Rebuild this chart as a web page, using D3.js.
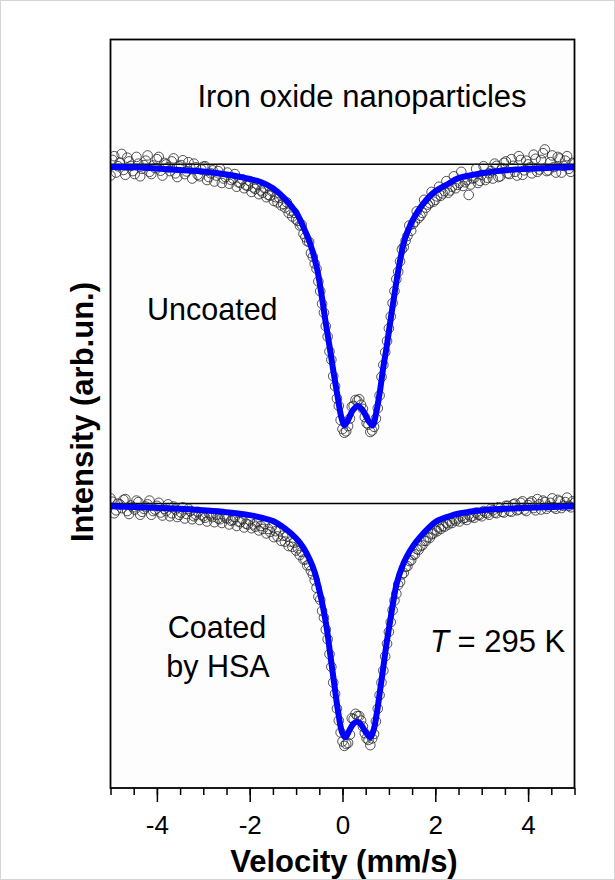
<!DOCTYPE html>
<html>
<head>
<meta charset="utf-8">
<script src="https://cdn.jsdelivr.net/npm/d3@7"></script>
<style>
  body { margin: 0; background: #fff; }
  svg text { font-family: "Liberation Sans", Arial, sans-serif; fill: #000; }
</style>
</head>
<body>
<div id="chart"></div>
<script>
// Velocity channels (mm/s) of the measured spectra
const channelV = [
  -5.00, -4.96, -4.92, -4.88, -4.84, -4.80, -4.76, -4.72, -4.68, -4.64, -4.60, -4.56, -4.52, -4.48, -4.44, -4.40, -4.36, -4.32, -4.28, -4.24, -4.20, -4.16, -4.12, -4.08, -4.04,
  -4.00, -3.96, -3.92, -3.88, -3.84, -3.80, -3.76, -3.72, -3.68, -3.64, -3.60, -3.56, -3.52, -3.48, -3.44, -3.40, -3.36, -3.32, -3.28, -3.24, -3.20, -3.16, -3.12, -3.08, -3.04,
  -3.00, -2.96, -2.92, -2.88, -2.84, -2.80, -2.76, -2.72, -2.68, -2.64, -2.60, -2.56, -2.52, -2.48, -2.44, -2.40, -2.36, -2.32, -2.28, -2.24, -2.20, -2.16, -2.12, -2.08, -2.04,
  -2.00, -1.96, -1.92, -1.88, -1.84, -1.80, -1.76, -1.72, -1.68, -1.64, -1.60, -1.56, -1.52, -1.48, -1.44, -1.40, -1.36, -1.32, -1.28, -1.24, -1.20, -1.16, -1.12, -1.08, -1.04,
  -1.00, -0.96, -0.92, -0.88, -0.84, -0.80, -0.76, -0.72, -0.68, -0.64, -0.60, -0.56, -0.52, -0.48, -0.44, -0.40, -0.36, -0.32, -0.28, -0.24, -0.20, -0.16, -0.12, -0.08, -0.04,
  0.00, 0.04, 0.08, 0.12, 0.16, 0.20, 0.24, 0.28, 0.32, 0.36, 0.40, 0.44, 0.48, 0.52, 0.56, 0.60, 0.64, 0.68, 0.72, 0.76, 0.80, 0.84, 0.88, 0.92, 0.96,
  1.00, 1.04, 1.08, 1.12, 1.16, 1.20, 1.24, 1.28, 1.32, 1.36, 1.40, 1.44, 1.48, 1.52, 1.56, 1.60, 1.64, 1.68, 1.72, 1.76, 1.80, 1.84, 1.88, 1.92, 1.96,
  2.00, 2.04, 2.08, 2.12, 2.16, 2.20, 2.24, 2.28, 2.32, 2.36, 2.40, 2.44, 2.48, 2.52, 2.56, 2.60, 2.64, 2.68, 2.72, 2.76, 2.80, 2.84, 2.88, 2.92, 2.96,
  3.00, 3.04, 3.08, 3.12, 3.16, 3.20, 3.24, 3.28, 3.32, 3.36, 3.40, 3.44, 3.48, 3.52, 3.56, 3.60, 3.64, 3.68, 3.72, 3.76, 3.80, 3.84, 3.88, 3.92, 3.96,
  4.00, 4.04, 4.08, 4.12, 4.16, 4.20, 4.24, 4.28, 4.32, 4.36, 4.40, 4.44, 4.48, 4.52, 4.56, 4.60, 4.64, 4.68, 4.72, 4.76, 4.80, 4.84, 4.88, 4.92, 4.96, 5.00
];

// Relative transmission (%) - uncoated nanoparticles
const uncoatedMeas = [
  99.70, 100.12, 100.22, 99.78, 99.95, 100.05, 100.28, 99.85, 99.72, 100.18, 100.08, 99.96, 99.82, 99.74, 100.20, 100.02, 99.68, 99.88, 99.98, 100.10, 100.24, 99.80, 99.74, 99.97, 99.90,
  100.14, 100.20, 99.83, 99.70, 100.04, 100.00, 99.92, 99.82, 100.08, 100.16, 99.76, 99.66, 99.95, 99.98, 100.11, 99.74, 99.81, 100.06, 99.90, 99.62, 100.02, 99.92, 99.72, 99.68, 99.86,
  99.94, 99.95, 99.58, 99.66, 99.76, 99.84, 99.54, 99.70, 99.82, 99.88, 99.50, 99.62, 99.66, 99.78, 99.48, 99.58, 99.62, 99.74, 99.40, 99.52, 99.50, 99.60, 99.36, 99.44, 99.42,
  99.55, 99.26, 99.38, 99.34, 99.47, 99.20, 99.30, 99.24, 99.36, 99.12, 99.18, 99.16, 99.28, 99.02, 99.12, 98.98, 99.10, 98.90, 98.94, 98.84, 98.98, 98.70, 98.76, 98.60, 98.70,
  98.52, 98.48, 98.36, 98.38, 98.14, 98.05, 97.94, 97.92, 97.62, 97.52, 97.34, 97.20, 96.86, 96.60, 96.26, 96.02, 95.66, 95.38, 94.98, 94.76, 94.32, 94.05, 93.72, 93.52, 93.14,
  92.90, 92.80, 92.84, 92.98, 93.18, 93.50, 93.52, 93.68, 93.66, 93.70, 93.55, 93.44, 93.22, 93.06, 93.02, 92.82, 92.86, 92.96, 93.18, 93.46, 93.80, 94.30, 94.62, 94.96, 95.26,
  95.60, 95.92, 96.28, 96.60, 96.92, 97.12, 97.40, 97.72, 97.78, 97.95, 98.08, 98.36, 98.22, 98.40, 98.46, 98.74, 98.56, 98.62, 98.70, 99.05, 98.84, 98.92, 98.96, 99.26, 99.00,
  99.05, 99.14, 99.40, 99.16, 99.22, 99.28, 99.55, 99.24, 99.30, 99.40, 99.68, 99.36, 99.45, 99.50, 99.80, 99.42, 99.52, 99.58, 99.18, 99.46, 99.62, 99.64, 99.88, 99.50, 99.56,
  99.72, 99.95, 99.58, 99.64, 99.76, 99.82, 99.62, 100.02, 99.96, 99.66, 99.68, 99.90, 100.04, 100.08, 99.76, 99.74, 100.14, 99.96, 99.80, 99.70, 100.22, 100.12, 99.72, 99.84, 100.10,
  100.00, 99.92, 99.76, 100.26, 100.15, 99.80, 99.86, 100.12, 100.30, 100.40, 99.82, 99.84, 100.06, 100.24, 99.93, 99.78, 100.20, 100.16, 99.78, 99.96, 100.10, 100.22, 99.88, 99.80, 100.04, 100.02
];

// Relative transmission (%) - coated by HSA
const coatedMeas = [
  100.14, 100.05, 99.74, 99.82, 100.00, 99.98, 99.88, 100.10, 100.12, 99.80, 99.72, 99.95, 99.90, 99.84, 100.08, 100.04, 99.70, 99.78, 99.86, 99.92, 99.98, 100.08, 99.70, 99.80, 99.84,
  99.94, 100.02, 99.76, 99.68, 99.86, 99.80, 99.98, 99.66, 99.74, 99.92, 99.84, 99.64, 99.70, 99.76, 99.90, 99.60, 99.72, 99.86, 99.80, 99.58, 99.66, 99.70, 99.78, 99.56, 99.70,
  99.66, 99.62, 99.52, 99.74, 99.68, 99.64, 99.50, 99.70, 99.60, 99.58, 99.48, 99.68, 99.62, 99.60, 99.44, 99.54, 99.56, 99.64, 99.40, 99.52, 99.50, 99.58, 99.36, 99.46, 99.44,
  99.55, 99.34, 99.44, 99.38, 99.50, 99.28, 99.40, 99.32, 99.45, 99.20, 99.32, 99.24, 99.38, 99.10, 99.26, 99.12, 99.28, 99.00, 99.14, 98.98, 99.12, 98.86, 98.98, 98.84, 98.95,
  98.74, 98.80, 98.62, 98.70, 98.50, 98.50, 98.34, 98.36, 98.20, 98.10, 97.94, 97.74, 97.50, 97.42, 97.12, 96.94, 96.62, 96.36, 95.96, 95.62, 95.20, 94.90, 94.50, 94.18, 93.86,
  93.62, 93.50, 93.55, 93.58, 93.80, 94.24, 94.22, 94.36, 94.30, 94.30, 94.18, 94.02, 93.84, 93.70, 93.66, 93.52, 93.70, 93.82, 94.16, 94.50, 94.86, 95.20, 95.52, 95.90, 96.24,
  96.56, 96.82, 97.14, 97.40, 97.58, 97.82, 97.90, 98.10, 98.14, 98.30, 98.32, 98.46, 98.48, 98.62, 98.64, 98.78, 98.76, 98.86, 98.88, 99.00, 99.00, 99.10, 99.08, 99.18, 99.20,
  99.30, 99.26, 99.36, 99.32, 99.40, 99.38, 99.48, 99.44, 99.52, 99.48, 99.58, 99.54, 99.60, 99.52, 99.66, 99.60, 99.62, 99.56, 99.70, 99.64, 99.66, 99.62, 99.76, 99.70, 99.70,
  99.66, 99.80, 99.76, 99.74, 99.70, 99.86, 99.82, 99.76, 99.74, 99.90, 99.88, 99.78, 99.76, 99.94, 99.94, 99.80, 99.78, 99.98, 100.00, 99.82, 99.84, 100.02, 100.06, 99.84, 99.80,
  99.96, 100.02, 100.06, 99.88, 99.82, 100.12, 99.98, 99.84, 100.08, 100.04, 99.86, 99.92, 100.02, 100.14, 99.90, 99.86, 100.10, 100.06, 99.88, 99.94, 100.04, 100.16, 99.94, 99.90, 100.06, 100.02
];

// Fitted curves (blue)
const uncoatedFitV = [-5.0, -4.5, -4.0, -3.5, -3.0, -2.5, -2.0, -1.75, -1.5, -1.25, -1.0, -0.85, -0.7,
  -0.55, -0.45, -0.37, -0.28, -0.19, -0.1, -0.02, 0.04, 0.12, 0.22, 0.33, 0.44, 0.55, 0.65,
  0.72, 0.8, 0.88, 0.95, 1.05, 1.15, 1.25, 1.35, 1.5, 1.65, 1.8, 2.0, 2.25, 2.5, 3.0, 3.5, 4.0, 4.5, 5.0];
const uncoatedFit = [99.93, 99.92, 99.89, 99.85, 99.81, 99.73, 99.61, 99.52, 99.36, 99.09, 98.71, 98.34, 97.88,
  97.21, 96.49, 95.82, 95.12, 94.40, 93.73, 93.19, 93.00, 93.14, 93.40, 93.51, 93.40, 93.14, 93.00,
  93.30, 93.86, 94.56, 95.09, 95.95, 96.76, 97.48, 98.02, 98.47, 98.79, 99.04, 99.28, 99.46, 99.63, 99.76, 99.84, 99.88, 99.91, 99.92];

const coatedFitV = [-5.0, -4.5, -4.0, -3.5, -3.0, -2.5, -2.0, -1.75, -1.5, -1.25, -1.0, -0.85, -0.7, -0.6,
  -0.5, -0.42, -0.34, -0.27, -0.18, -0.09, -0.01, 0.06, 0.15, 0.24, 0.32, 0.4, 0.5, 0.6, 0.67,
  0.74, 0.81, 0.88, 0.95, 1.03, 1.1, 1.17, 1.28, 1.39, 1.53, 1.67, 1.85, 2.03, 2.3, 2.54, 3.0, 3.5, 4.0, 4.5, 5.0];
const coatedFit = [99.93, 99.91, 99.89, 99.86, 99.82, 99.77, 99.69, 99.62, 99.53, 99.34, 99.07, 98.83, 98.48, 98.16,
  97.68, 97.22, 96.66, 96.01, 95.18, 94.38, 93.87, 93.73, 93.92, 94.10, 94.15, 94.07, 93.87, 93.73, 93.92,
  94.38, 94.99, 95.61, 96.25, 96.87, 97.41, 97.86, 98.29, 98.59, 98.88, 99.10, 99.34, 99.53, 99.66, 99.74, 99.82, 99.86, 99.89, 99.91, 99.93];

// Vertical shift of the upper spectrum (%)
const uncoatedOffset = 9.10;

const majorTicks = [-4, -2, 0, 2, 4];
const minorTicks = [-5, -4.5, -4, -3.5, -3, -2.5, -2, -1.5, -1, -0.5, 0, 0.5, 1, 1.5, 2, 2.5, 3, 3.5, 4, 4.5, 5];

// Set up the dimensions
const width = 615;
const height = 880;
const plot = { left: 110.5, right: 574.5, top: 39.5, bottom: 788 };

const x = d3.scaleLinear().domain([-5, 5]).range([plot.left, plot.right]);
const y = d3.scaleLinear().domain([92.37, 112.45]).range([plot.bottom, plot.top]);

const svg = d3.select("#chart")
  .append("svg")
  .attr("width", width)
  .attr("height", height);

// light outer border of the figure
svg.append("rect")
  .attr("x", 0.5).attr("y", 0.5)
  .attr("width", width - 1).attr("height", height - 1)
  .attr("fill", "#fff")
  .attr("stroke", "#d4d4d4");

svg.append("defs").append("clipPath")
  .attr("id", "plot-clip")
  .append("rect")
  .attr("x", plot.left).attr("y", plot.top)
  .attr("width", plot.right - plot.left).attr("height", plot.bottom - plot.top);

svg.append("rect")
  .attr("x", plot.left).attr("y", plot.top)
  .attr("width", plot.right - plot.left).attr("height", plot.bottom - plot.top)
  .attr("fill", "#fdfdfd");

const g = svg.append("g").attr("clip-path", "url(#plot-clip)");

const spectra = [
  { meas: uncoatedMeas, fitV: uncoatedFitV, fit: uncoatedFit, offset: uncoatedOffset },
  { meas: coatedMeas, fitV: coatedFitV, fit: coatedFit, offset: 0 }
];

const line = d3.line()
  .x(d => x(d[0]))
  .y(d => y(d[1]))
  .curve(d3.curveCatmullRom.alpha(0.5));

spectra.forEach(s => {
  // 100 % transmission reference line
  g.append("line")
    .attr("x1", plot.left).attr("x2", plot.right)
    .attr("y1", y(100 + s.offset)).attr("y2", y(100 + s.offset))
    .attr("stroke", "#000")
    .attr("stroke-width", 1.5);

  // measured points
  g.append("g").selectAll("circle")
    .data(s.meas.map((v, i) => [channelV[i], v + s.offset]))
    .enter()
    .append("circle")
    .attr("cx", d => x(d[0]))
    .attr("cy", d => y(d[1]))
    .attr("r", 4.8)
    .attr("fill", "none")
    .attr("stroke", "#2a2a2a")
    .attr("stroke-width", 0.8);

  // fit
  g.append("path")
    .datum(s.fit.map((v, i) => [s.fitV[i], v + s.offset]))
    .attr("d", line)
    .attr("fill", "none")
    .attr("stroke", "#0000ff")
    .attr("stroke-width", 6)
    .attr("stroke-linejoin", "round");
});

// frame
svg.append("rect")
  .attr("x", plot.left).attr("y", plot.top)
  .attr("width", plot.right - plot.left).attr("height", plot.bottom - plot.top)
  .attr("fill", "none")
  .attr("stroke", "#000")
  .attr("stroke-width", 1.8);

// x axis: minor then major ticks
const minorAxis = d3.axisBottom(x).tickValues(minorTicks).tickSize(7).tickFormat("");
const majorAxis = d3.axisBottom(x).tickValues(majorTicks).tickSize(14).tickPadding(14)
  .tickFormat(d => d < 0 ? "-" + Math.abs(d) : d);

[minorAxis, majorAxis].forEach(ax => {
  const a = svg.append("g")
    .attr("transform", `translate(0, ${plot.bottom})`)
    .call(ax)
    .attr("font-size", 26)
    .attr("font-family", "'Liberation Sans', Arial, sans-serif");
  a.select(".domain").remove();
  a.selectAll(".tick line").attr("stroke", "#000").attr("stroke-width", 1.5);
  a.selectAll(".tick text")
    .attr("font-size", 26)
    .style("font-size", "26px")
    .attr("fill", "#000");
});

// labels
svg.append("text")
  .attr("x", 344).attr("y", 872)
  .attr("text-anchor", "middle")
  .style("font-size", "31px")
  .style("font-weight", "bold")
  .text("Velocity (mm/s)");

svg.append("text")
  .attr("transform", "translate(93, 412) rotate(-90)")
  .attr("text-anchor", "middle")
  .style("font-size", "31px")
  .style("font-weight", "bold")
  .text("Intensity (arb.un.)");

svg.append("text")
  .attr("x", 362).attr("y", 107)
  .attr("text-anchor", "middle")
  .style("font-size", "31px")
  .text("Iron oxide nanoparticles");

svg.append("text")
  .attr("x", 147).attr("y", 320)
  .style("font-size", "30.5px")
  .text("Uncoated");

svg.append("text")
  .attr("x", 217).attr("y", 638)
  .attr("text-anchor", "middle")
  .style("font-size", "30.5px")
  .text("Coated");

svg.append("text")
  .attr("x", 218).attr("y", 677)
  .attr("text-anchor", "middle")
  .style("font-size", "30.5px")
  .text("by HSA");

const tLabel = svg.append("text")
  .attr("x", 430).attr("y", 652)
  .style("font-size", "31px");
tLabel.append("tspan").style("font-style", "italic").text("T");
tLabel.append("tspan").text(" = 295 K");
</script>
</body>
</html>
